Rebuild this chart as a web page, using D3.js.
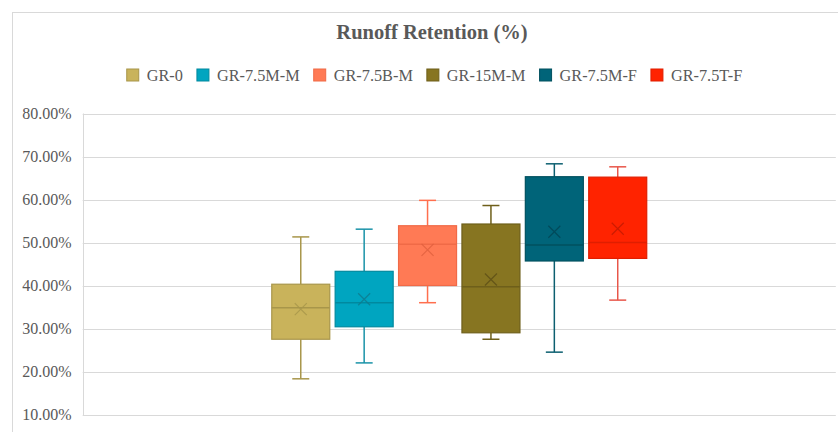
<!DOCTYPE html>
<html>
<head>
<meta charset="utf-8">
<script src="https://cdn.jsdelivr.net/npm/d3@7"></script>
<style>
  html, body { margin: 0; padding: 0; background: #fff; }
  svg { display: block; }
  text { font-family: "Liberation Serif", "DejaVu Serif", serif; fill: #595959; }
</style>
</head>
<body>
<svg id="chart" width="838" height="432"></svg>
<script>
// ---- Data (values in %) ----
const series   = ["GR-0", "GR-7.5M-M", "GR-7.5B-M", "GR-15M-M", "GR-7.5M-F", "GR-7.5T-F"];
const whiskerLow  = [18.3, 22.0, 36.0, 27.5, 24.5, 36.6];
const q1          = [27.5, 30.4, 40.0, 29.0, 45.7, 46.3];
const median      = [34.8, 36.0, 49.6, 39.7, 49.4, 50.0];
const q3          = [40.3, 43.3, 53.9, 54.3, 65.3, 65.2];
const whiskerHigh = [51.3, 53.1, 59.8, 58.6, 68.3, 67.6];
const mean        = [34.5, 36.8, 48.3, 41.4, 52.5, 53.2];
const yTicks = [10, 20, 30, 40, 50, 60, 70, 80];
const title = "Runoff Retention (%)";

// ---- Styles ----
const fills   = ["#C9B35B", "#00A5C0", "#FF7A55", "#877521", "#006479", "#FF2300"];
const strokes = ["#A8964A", "#00899F", "#F06A47", "#6E5F1A", "#00505F", "#E01E00"];
const whisk   = ["#A8964A", "#1A93A8", "#FF6F4E", "#6E5F1A", "#0C5F70", "#E8564A"];
const marks   = ["#A8964A", "#0E7C8F", "#E0603E", "#5E5016", "#004656", "#C41A00"];

const svg = d3.select("#chart");
const W = 838, H = 432;

// outer border (chart area frame)
svg.append("rect").attr("x", 12.5).attr("y", 12.5).attr("width", W + 20).attr("height", H + 20)
  .attr("fill", "none").attr("stroke", "#d9d9d9").attr("stroke-width", 1);

const plot = { left: 82.7, right: 835.8, top: 113.5, bottom: 414.5 };

const y = d3.scaleLinear().domain([10, 80]).range([plot.bottom, plot.top]);
const xCat = d3.scaleBand().domain(["all"]).range([plot.left, plot.right]).paddingOuter(0.49).paddingInner(0);
const x = d3.scaleBand().domain(series).range([xCat("all"), xCat("all") + xCat.bandwidth()]).paddingInner(0.085).paddingOuter(0.0425);

// gridlines
svg.append("g").selectAll("line").data(yTicks).join("line")
  .attr("x1", plot.left).attr("x2", plot.right)
  .attr("y1", d => Math.round(y(d)) + 0.5).attr("y2", d => Math.round(y(d)) + 0.5)
  .attr("stroke", "#d9d9d9").attr("stroke-width", 1);
// left axis line
svg.append("line").attr("x1", Math.round(plot.left) + 0.5).attr("x2", Math.round(plot.left) + 0.5)
  .attr("y1", y(80)).attr("y2", y(10) + 0.5).attr("stroke", "#d9d9d9");

// y axis labels
const yAxis = d3.axisLeft(y).tickValues(yTicks).tickSize(0).tickPadding(11)
  .tickFormat(d => d.toFixed(2) + "%");
const gy = svg.append("g").attr("transform", `translate(${plot.left},0)`).call(yAxis);
gy.select(".domain").remove();
gy.selectAll("text").attr("font-size", 16).attr("fill", "#595959")
  .style("font-family", '"Liberation Serif", serif');

// boxes
const idx = d3.range(series.length);
const g = svg.append("g");
idx.forEach(i => {
  const s = series[i];
  const x0 = x(s), bw = x.bandwidth(), cx = x0 + bw / 2;
  const cap = 17;
  // whiskers
  g.append("line").attr("x1", cx).attr("x2", cx).attr("y1", y(whiskerHigh[i])).attr("y2", y(q3[i]))
    .attr("stroke", whisk[i]).attr("stroke-width", 1.5);
  g.append("line").attr("x1", cx).attr("x2", cx).attr("y1", y(q1[i])).attr("y2", y(whiskerLow[i]))
    .attr("stroke", whisk[i]).attr("stroke-width", 1.5);
  [whiskerHigh[i], whiskerLow[i]].forEach(v => {
    g.append("line").attr("x1", cx - cap / 2).attr("x2", cx + cap / 2).attr("y1", y(v)).attr("y2", y(v))
      .attr("stroke", whisk[i]).attr("stroke-width", 1.5);
  });
  // box
  g.append("rect").attr("x", x0).attr("y", y(q3[i])).attr("width", bw).attr("height", y(q1[i]) - y(q3[i]))
    .attr("fill", fills[i]).attr("stroke", strokes[i]).attr("stroke-width", 1.2);
  // median
  g.append("line").attr("x1", x0).attr("x2", x0 + bw).attr("y1", y(median[i])).attr("y2", y(median[i]))
    .attr("stroke", strokes[i]).attr("stroke-width", 1.5);
  // mean X
  const m = 6, my = y(mean[i]);
  g.append("path").attr("d", `M${cx - m},${my - m}L${cx + m},${my + m}M${cx - m},${my + m}L${cx + m},${my - m}`)
    .attr("stroke", marks[i]).attr("stroke-width", 1.2).attr("fill", "none").attr("opacity", 0.85);
});

// title
svg.append("text").attr("x", 432).attr("y", 39).attr("text-anchor", "middle")
  .attr("font-size", 20.5).attr("font-weight", "bold").attr("fill", "#404040").text(title);

// legend
const leg = svg.append("g");
const items = leg.selectAll("g").data(idx).join("g");
items.append("rect").attr("width", 12).attr("height", 12).attr("y", 69)
  .attr("fill", i => fills[i]).attr("stroke", i => strokes[i]).attr("stroke-width", 1);
items.append("text").attr("x", 20).attr("y", 80.5).attr("font-size", 16.3).attr("fill", "#595959")
  .text(i => series[i]);
let widths = [];
items.each(function() { widths.push(20 + d3.select(this).select("text").node().getComputedTextLength()); });
const gap = 14;
const total = d3.sum(widths) + gap * (widths.length - 1);
let cur = 434.5 - total / 2;
items.attr("transform", (d, k) => { const t = `translate(${cur},0)`; cur += widths[k] + gap; return t; });
</script>
</body>
</html>
